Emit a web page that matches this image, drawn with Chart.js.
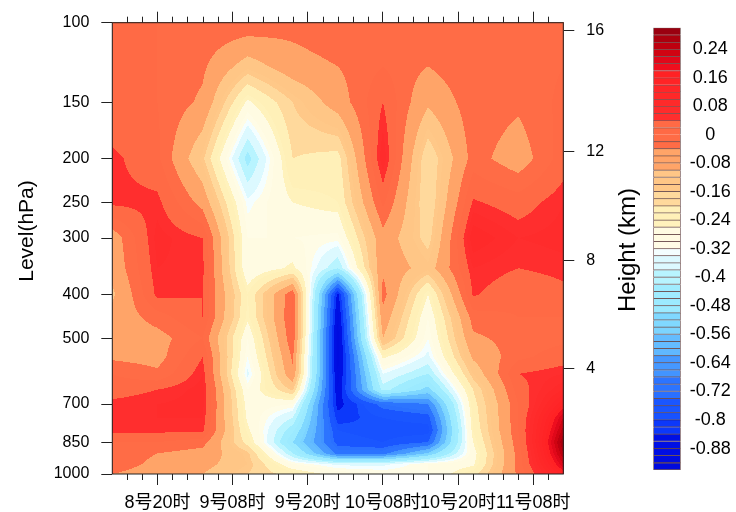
<!DOCTYPE html>
<html lang="zh">
<head>
<meta charset="UTF-8">
<title>垂直速度时间-高度剖面</title>
<script src="https://cdn.jsdelivr.net/npm/chart.js"></script>
<style>
  body { margin: 0; background: #fff; }
  #wrap { position: relative; width: 736px; height: 512px; }
  #main { position: absolute; left: 0; top: 0; }
  #bar { position: absolute; left: 640px; top: 0; }
</style>
</head>
<body>
<div id="wrap">
  <canvas id="main" width="736" height="512"></canvas>
  <canvas id="bar" width="96" height="512"></canvas>
</div>
<script>
// time steps (index along x) and the labelled tick positions
const times = [0, 1, 2, 3, 4, 5, 6, 7, 8, 9, 10];
const timeTickPos = [1, 8 / 3, 13 / 3, 6, 23 / 3, 28 / 3];
const timeLabels = ['8号20时', '9号08时', '9号20时', '10号08时', '10号20时', '11号08时'];

// pressure levels (hPa), top to bottom
const levels = [100, 125, 150, 200, 250, 300, 350, 400, 450, 500, 550, 600, 650, 700, 750, 800, 850, 900, 950, 1000];
const levelTicks = [100, 150, 200, 250, 300, 400, 500, 700, 850, 1000];

// right axis: height (km) and the pressure it sits at
const heightLabels = ['4', '8', '12', '16'];
const heightLevels = [583, 336, 193, 104];

// one row per level, one column per time step
const omega = [
  [ 0.00,  0.00,  0.00,  0.00, -0.02,  0.00,  0.00,  0.00,  0.00,  0.00,  0.00], // 100
  [ 0.00,  0.00, -0.03, -0.13, -0.065,-0.04,  0.00, -0.04,  0.00, -0.02,  0.00], // 125
  [ 0.00,  0.00, -0.05, -0.27, -0.16, -0.07,  0.04, -0.09, -0.01, -0.03,  0.01], // 150
  [ 0.05,  0.01, -0.15, -0.44, -0.20, -0.22,  0.08, -0.20, -0.02, -0.07,  0.02], // 200
  [ 0.05,  0.05, -0.06, -0.33, -0.26, -0.24,  0.01, -0.20,  0.045, 0.02,  0.06], // 250
  [-0.07,  0.07,  0.04, -0.30, -0.30, -0.31, -0.06, -0.18,  0.10,  0.06,  0.07], // 300
  [-0.08,  0.06,  0.05, -0.30, -0.25, -0.42, -0.05, -0.13,  0.06,  0.04,  0.05], // 350
  [-0.11,  0.05,  0.04, -0.24,  0.00, -0.86, -0.02, -0.26,  0.045, 0.01,  0.03], // 400
  [-0.08, -0.02,  0.04, -0.25,  0.01, -0.90, -0.06, -0.30, -0.02,  0.00,  0.00], // 450
  [-0.07, -0.06,  0.00, -0.30,  0.00, -0.92, -0.10, -0.32, -0.05, -0.02, -0.01], // 500
  [-0.05, -0.06,  0.04, -0.32, -0.03, -0.92, -0.25, -0.35, -0.09, -0.01,  0.02], // 550
  [ 0.00, -0.03,  0.06, -0.35, -0.05, -0.90, -0.34, -0.42, -0.14,  0.04,  0.06], // 600
  [ 0.02,  0.04,  0.07, -0.30, -0.15, -0.88, -0.40, -0.52, -0.20,  0.02,  0.10], // 650
  [ 0.05,  0.06,  0.07, -0.28, -0.30, -0.86, -0.72, -0.68, -0.22,  0.00,  0.16], // 700
  [ 0.06,  0.06,  0.06, -0.27, -0.38, -0.82, -0.78, -0.76, -0.23,  0.00,  0.22], // 750
  [ 0.05,  0.05,  0.05, -0.25, -0.45, -0.78, -0.80, -0.80, -0.24,  0.00,  0.25], // 800
  [ 0.00,  0.00, -0.02, -0.22, -0.50, -0.76, -0.78, -0.74, -0.26, -0.01,  0.28], // 850
  [-0.02, -0.04, -0.06, -0.15, -0.42, -0.70, -0.70, -0.55, -0.28, -0.02,  0.26], // 900
  [-0.02, -0.05, -0.08, -0.14, -0.30, -0.35, -0.35, -0.30, -0.27, -0.02,  0.22], // 950
  [-0.04, -0.06, -0.10, -0.16, -0.22, -0.28, -0.30, -0.30, -0.22, -0.03,  0.16]  // 1000
];

// contour levels: 0.02 spacing from -0.94 to 0.30, labels every fourth level
const cbMin = -0.94;
const cbMax = 0.30;
const cbStep = 0.02;
const cbTicks = [0.24, 0.16, 0.08, 0, -0.08, -0.16, -0.24, -0.32, -0.4, -0.48, -0.56, -0.64, -0.72, -0.8, -0.88];
const cbLabels = ['0.24', '0.16', '0.08', '0', '-0.08', '-0.16', '-0.24', '-0.32', '-0.4', '-0.48', '-0.56', '-0.64', '-0.72', '-0.8', '-0.88'];

// fill colours, top box first
const boxColors = [
  '#9a0010', '#ac000e', '#be000f', '#d00412', '#e0081a', '#ee0e1e',
  '#ff2224', '#ff2426', '#ff2628', '#ff2828', '#ff2a2a', '#ff2c2c', '#ff2e2e',
  '#ff6a45', '#ff6a45', '#ff6c46', '#ff6c46',
  '#ffa468', '#ffa468', '#ffa468',
  '#ffc686', '#ffc686', '#ffc888',
  '#ffd99c', '#ffd99c',
  '#fff0b8', '#fff0b8', '#fff2bc',
  '#fffbe2', '#fffbe2', '#fffce6',
  '#f4feff',
  '#dcf9ff', '#dcf9ff',
  '#b8f4ff', '#b8f4ff',
  '#a0ecff', '#a0ecff', '#9ceaff', '#9ceaff',
  '#80d8ff', '#80d8ff', '#7cd4ff',
  '#64bcff', '#64bcff', '#60b8ff',
  '#4698ff', '#4698ff', '#4294ff',
  '#2c74ff', '#2c74ff', '#2a70ff',
  '#1a56ff', '#1a56ff', '#1852ff',
  '#0c38fa', '#0c38fa',
  '#0010e4', '#0010e4', '#000ee2', '#000ce0', '#000ade'
];

const FONT = '"Liberation Sans", "Noto Sans CJK SC", sans-serif';
Chart.defaults.font.family = FONT;
Chart.defaults.color = '#000';

const nBox = boxColors.length;
const rgb = boxColors.map(h => [parseInt(h.slice(1, 3), 16), parseInt(h.slice(3, 5), 16), parseInt(h.slice(5, 7), 16)]);
const logLv = levels.map(p => Math.log(p));

function colorIndex(v) {
  let k = Math.floor((v - cbMin) / cbStep + 1e-9);
  k = Math.max(0, Math.min(nBox - 1, k));
  return nBox - 1 - k;
}

// bilinear in (time index, ln p)
function valueAt(u, p) {
  const lp = Math.log(p);
  let r = 0;
  while (r < levels.length - 2 && lp > logLv[r + 1]) r++;
  const t = Math.min(1, Math.max(0, (lp - logLv[r]) / (logLv[r + 1] - logLv[r])));
  const c = Math.min(times.length - 2, Math.max(0, Math.floor(u)));
  const s = Math.min(1, Math.max(0, (u - times[c]) / (times[c + 1] - times[c])));
  const top = omega[r][c] * (1 - s) + omega[r][c + 1] * s;
  const bot = omega[r + 1][c] * (1 - s) + omega[r + 1][c + 1] * s;
  return top * (1 - t) + bot * t;
}

const gridPoints = [];
levels.forEach((p, r) => times.forEach((t, c) => gridPoints.push({ x: t, y: p, v: omega[r][c] })));

const fieldPlugin = {
  id: 'field',
  beforeDatasetsDraw(chart) {
    const { ctx, chartArea: a, scales } = chart;
    const x0 = Math.floor(a.left), y0 = Math.floor(a.top);
    const w = Math.ceil(a.right) - x0, h = Math.ceil(a.bottom) - y0;
    const img = ctx.createImageData(w, h);
    const us = [];
    for (let i = 0; i < w; i++) us.push(scales.x.getValueForPixel(x0 + i + 0.5));
    for (let j = 0; j < h; j++) {
      const p = scales.y.getValueForPixel(y0 + j + 0.5);
      for (let i = 0; i < w; i++) {
        const col = rgb[colorIndex(valueAt(us[i], p))];
        const o = (j * w + i) * 4;
        img.data[o] = col[0];
        img.data[o + 1] = col[1];
        img.data[o + 2] = col[2];
        img.data[o + 3] = 255;
      }
    }
    ctx.putImageData(img, x0, y0);
  },
  afterDatasetsDraw(chart) {
    const { ctx, chartArea: a, scales } = chart;
    ctx.save();
    ctx.strokeStyle = '#222';
    ctx.lineWidth = 1;
    ctx.strokeRect(a.left, a.top, a.right - a.left, a.bottom - a.top);
    // minor ticks on top and bottom
    ctx.beginPath();
    for (let k = 1; k < 30; k++) {
      const u = k / 3;
      if (timeTickPos.some(m => Math.abs(m - u) < 1e-6)) continue;
      const x = Math.round(scales.x.getPixelForValue(u)) + 0.5;
      ctx.moveTo(x, a.bottom);
      ctx.lineTo(x, a.bottom + 6);
      ctx.moveTo(x, a.top);
      ctx.lineTo(x, a.top - 6);
    }
    ctx.stroke();
    // axis titles
    ctx.fillStyle = '#000';
    ctx.textAlign = 'center';
    ctx.textBaseline = 'middle';
    ctx.font = '21px ' + FONT;
    ctx.translate(27, 231);
    ctx.rotate(-Math.PI / 2);
    ctx.fillText('Level(hPa)', 0, 0);
    ctx.restore();
    ctx.save();
    ctx.fillStyle = '#000';
    ctx.textAlign = 'center';
    ctx.textBaseline = 'middle';
    ctx.font = '24px ' + FONT;
    ctx.translate(628, 250);
    ctx.rotate(-Math.PI / 2);
    ctx.fillText('Height (km)', 0, 0);
    ctx.restore();
  }
};

const tickGrid = { drawOnChartArea: false, drawTicks: true, tickLength: 11, color: '#222', lineWidth: 1 };

new Chart(document.getElementById('main'), {
  type: 'scatter',
  data: { datasets: [{ data: gridPoints, pointRadius: 0, showLine: false }] },
  options: {
    responsive: false,
    animation: false,
    devicePixelRatio: 1,
    events: [],
    layout: { padding: 0 },
    plugins: { legend: { display: false }, tooltip: { enabled: false } },
    scales: {
      x: {
        type: 'linear', position: 'bottom', min: 0, max: 10,
        grid: tickGrid, border: { display: false },
        afterBuildTicks: s => { s.ticks = timeTickPos.map(v => ({ value: v })); },
        afterFit: s => { s.height = 38; },
        ticks: {
          autoSkip: false, maxRotation: 0, minRotation: 0, padding: 7,
          font: { size: 18 },
          callback: (v, i) => timeLabels[i]
        }
      },
      xTop: {
        type: 'linear', position: 'top', min: 0, max: 10,
        grid: tickGrid, border: { display: false },
        afterBuildTicks: s => { s.ticks = timeTickPos.map(v => ({ value: v })); },
        afterFit: s => { s.height = 22.7; },
        ticks: { display: false }
      },
      y: {
        type: 'logarithmic', position: 'left', min: 100, max: 1000, reverse: true,
        grid: tickGrid, border: { display: false },
        afterBuildTicks: s => { s.ticks = levelTicks.map(v => ({ value: v })); },
        afterFit: s => { s.width = 112.3; },
        ticks: { autoSkip: false, padding: 12, font: { size: 16 }, callback: v => String(v) }
      },
      yH: {
        type: 'logarithmic', position: 'right', min: 100, max: 1000, reverse: true,
        grid: tickGrid, border: { display: false },
        afterBuildTicks: s => { s.ticks = heightLevels.map(v => ({ value: v })); },
        afterFit: s => { s.width = 172.7; },
        ticks: { autoSkip: false, padding: 12, font: { size: 16 }, callback: (v, i) => heightLabels[i] }
      }
    }
  },
  plugins: [fieldPlugin]
});

// colour bar: one floating bar per contour interval
const boxes = boxColors.map((c, i) => {
  const hi = cbMax - i * cbStep;
  return {
    data: [[hi - cbStep, hi]],
    backgroundColor: c,
    borderColor: 'rgba(60,20,20,0.7)',
    borderWidth: 1,
    borderSkipped: i === nBox - 1 ? false : 'start',
    grouped: false,
    barPercentage: 1,
    categoryPercentage: 1
  };
});

new Chart(document.getElementById('bar'), {
  type: 'bar',
  data: { labels: ['w'], datasets: boxes },
  options: {
    responsive: false,
    animation: false,
    devicePixelRatio: 1,
    events: [],
    layout: { padding: { left: 13.3, top: 27.7, bottom: 42, right: 0 } },
    plugins: { legend: { display: false }, tooltip: { enabled: false } },
    scales: {
      x: { display: false },
      y: {
        type: 'linear', position: 'right', min: cbMin, max: cbMax,
        grid: { display: false }, border: { display: false },
        afterBuildTicks: s => { s.ticks = cbTicks.map(v => ({ value: v })); },
        afterFit: s => { s.width = 55.3; },
        ticks: { autoSkip: false, padding: 1, crossAlign: 'center', font: { size: 18 }, callback: (v, i) => cbLabels[i] }
      }
    }
  }
});
</script>
</body>
</html>
